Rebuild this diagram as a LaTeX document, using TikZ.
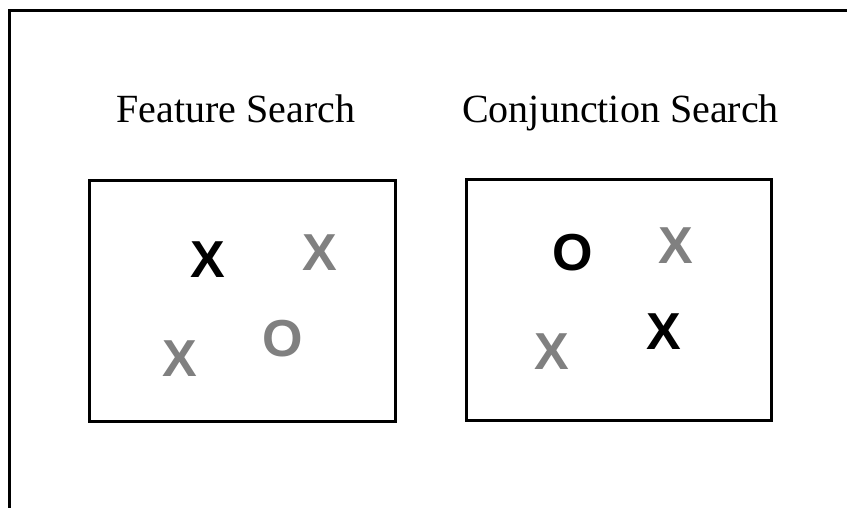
\documentclass[tikz,border=0pt]{standalone}
\usepackage{fontspec}
\setmainfont{Liberation Serif}
\newfontfamily\lettersfont{Liberation Sans}
\definecolor{symgray}{RGB}{128,128,128}
\begin{document}
\begin{tikzpicture}[x=1pt,y=-1pt,
  frame/.style={draw=black,line width=3pt},
  title/.style={anchor=base,inner sep=0pt,font=\fontsize{40}{44}\selectfont},
  sym/.style={anchor=base,inner sep=0pt,font=\lettersfont\bfseries\fontsize{52}{56}\selectfont},
  blacksym/.style={sym,text=black},
  graysym/.style={sym,text=symgray}]
\useasboundingbox (0,0) rectangle (847,508);
\fill[white] (0,0) rectangle (847,508);
% outer frame (only left and top visible)
\coordinate (oTL) at (9.5,11);
\coordinate (oTR) at (850,11);
\coordinate (oBL) at (9.5,511);
\draw[frame,line cap=rect] (oBL) -- (oTL) -- (oTR);
% titles
\node[title] (t1) at (236,123) {Feature Search};
\node[title] (t2) at (620.5,123) {Conjunction Search};
% boxes
\draw[frame] (89,181) rectangle (395,421);
\draw[frame] (466.5,180) rectangle (771,420);
% feature search symbols
\node[blacksym] (f1) at (208,277) {X};
\node[graysym] (f2) at (320,270.5) {X};
\node[graysym] (f3) at (180,376.5) {X};
\node[graysym] (f4) at (282.7,356) {O};
% conjunction search symbols
\node[blacksym] (c1) at (573,270) {O};
\node[graysym] (c2) at (676,264) {X};
\node[blacksym] (c3) at (664,349.3) {X};
\node[graysym] (c4) at (551.7,369.3) {X};
\end{tikzpicture}
\end{document}
